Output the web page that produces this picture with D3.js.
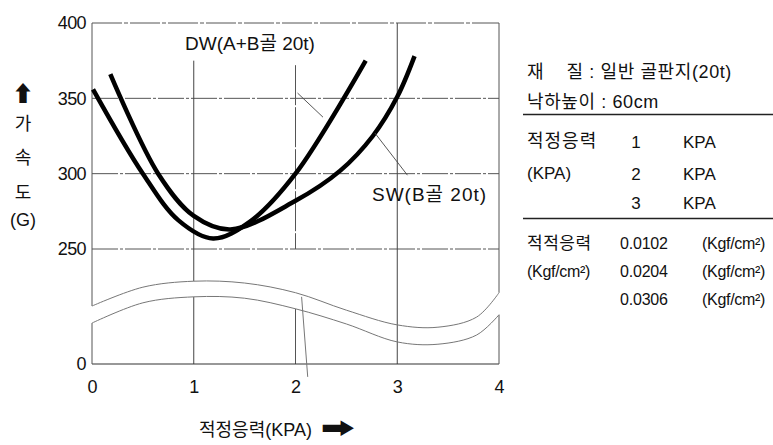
<!DOCTYPE html>
<html><head><meta charset="utf-8">
<script src="https://cdn.jsdelivr.net/npm/d3@7/dist/d3.min.js"></script>
<style>
body{margin:0;background:#fff;}
text{font-family:"Liberation Sans","Noto Sans CJK KR",sans-serif;fill:#111;white-space:pre;}
</style></head><body>
<script>
// ---- data ----
const xTicks = [0, 1, 2, 3, 4];
const yTicks = [0, 250, 300, 350, 400];
const gridY = [250, 300, 350];

const dwX = [0.01, 0.5, 0.85, 1.19, 1.55, 2.0, 2.69];
const dwY = [356, 300, 269, 257, 268, 300, 375];
const swX = [0.18, 0.65, 1.0, 1.36, 2.0, 2.44, 2.76, 3.0, 3.17];
const swY = [366, 300, 272, 263, 282, 302, 325, 351, 378];

// axis-break curves (drawn in the gap between 0 and 250)
const breakX = [0, 0.5, 1, 1.5, 2, 2.5, 3, 3.4, 3.78, 4];
const breakUpper = [126, 167, 180, 176, 155, 117, 85, 80, 102, 155];
const breakLower = [89, 133, 146, 143, 120, 87, 48, 43, 63, 107];

const dwLabel = "DW(A+B골 20t)";
const swLabel = "SW(B골 20t)";
const infoKpa = ["1", "2", "3"];
const infoKgf = ["0.0102", "0.0204", "0.0306"];

// ---- chart ----
const W = 773, H = 445;
const svg = d3.select("body").append("svg").attr("width", W).attr("height", H);

const x = d3.scaleLinear().domain([0, 4]).range([92, 499]);
const y = d3.scaleLinear().domain([0, 250, 400]).range([364, 249, 23]);

const line = d3.line().x(d => x(d[0])).y(d => y(d[1])).curve(d3.curveCatmullRom.alpha(0.5));
const seg = (x0, v0, x1, v1, col, w, dash) => svg.append("line")
  .attr("x1", x(x0)).attr("y1", y(v0)).attr("x2", x(x1)).attr("y2", y(v1))
  .attr("stroke", col).attr("stroke-width", w).attr("stroke-dasharray", dash || null);

// grid
gridY.forEach(v => seg(0, v, 4, v, "#555", 1, "26,2,3,2"));
seg(1, 375, 1, 250, "#444", 1);
seg(2, 372, 2, 250, "#555", 1, "40,2");
seg(3, 400, 3, 0, "#444", 1);
seg(1, 250, 1, breakUpper[2], "#444", 1);
seg(1, breakLower[2], 1, 0, "#444", 1);
seg(2, breakLower[4], 2, 0, "#555", 1);

// frame
seg(0, 400, 4, 400, "#555", 1, "30,2,4,2");
seg(0, 0, 4, 0, "#333", 1.2);
seg(0, 400, 0, breakUpper[0], "#555", 1);
seg(0, breakLower[0], 0, 0, "#555", 1);
seg(4, 400, 4, breakUpper[breakUpper.length - 1], "#555", 1);
seg(4, breakLower[breakLower.length - 1], 4, 0, "#555", 1);

// break curves
[breakUpper, breakLower].forEach(arr => {
  svg.append("path").attr("d", line(breakX.map((bx, i) => [bx, arr[i]])))
    .attr("fill", "none").attr("stroke", "#777").attr("stroke-width", 1);
});

// stray leader near x=2
seg(2.06, 146, 2.12, -28, "#777", 1);

// curves
[[dwX, dwY], [swX, swY]].forEach(([xs, ys]) => {
  svg.append("path").attr("d", line(xs.map((v, i) => [v, ys[i]])))
    .attr("fill", "none").attr("stroke", "#000").attr("stroke-width", 4.5).attr("stroke-linecap", "butt");
});

// leaders
seg(2.02, 353.5, 2.27, 337.5, "#444", 0.9);
seg(3.10, 299, 2.78, 327, "#444", 0.9);

// labels on chart
svg.append("text").attr("x", 185).attr("y", 50).attr("font-size", 19).text(dwLabel);
svg.append("text").attr("x", 372).attr("y", 201).attr("font-size", 19).attr("letter-spacing", 1).text(swLabel);

// axes
const ya = svg.append("g").attr("transform", `translate(${x(0)},0)`)
  .call(d3.axisLeft(y).tickValues(yTicks).tickSize(0).tickPadding(6));
ya.select(".domain").remove();
ya.selectAll("text").attr("font-size", 18).attr("font-family", "Liberation Sans").attr("letter-spacing", -0.6).attr("fill", "#111");

const xa = svg.append("g").attr("transform", `translate(0,${y(0)})`)
  .call(d3.axisBottom(x).tickValues(xTicks).tickFormat(d3.format("d")).tickSize(0).tickPadding(16));
xa.select(".domain").remove();
xa.selectAll("text").attr("font-size", 18).attr("font-family", "Liberation Sans").attr("fill", "#111");

// axis titles
const yt = ["가", "속", "도", "(G)"];
svg.append("text").attr("x", 23).attr("y", 101).attr("text-anchor", "middle")
  .attr("font-size", 22).attr("font-weight", "bold").attr("font-family", "DejaVu Sans").text("⬆");
yt.forEach((t, i) => svg.append("text").attr("x", 23).attr("y", [130, 164, 199, 226][i])
  .attr("text-anchor", "middle").attr("font-size", 18).text(t));

svg.append("text").attr("x", 199).attr("y", 436).attr("font-size", 18).text("적정응력(KPA)");
svg.append("text").attr("transform", "translate(321,436) scale(1.55,1)")
  .attr("font-family", "DejaVu Sans").attr("font-size", 22).text("➡");

// info panel
const info = svg.append("g");
const t = (xx, yy, s, fs, anchor, ls) => info.append("text").attr("x", xx).attr("y", yy)
  .attr("font-size", fs).attr("text-anchor", anchor || "start").attr("letter-spacing", ls || 0).text(s);
t(527, 78, "재    질 : 일반 골판지(20t)", 18, "start", 0.6);
t(527, 108, "낙하높이 : 60cm", 18, "start", 0.6);
info.append("line").attr("x1", 523).attr("x2", 773).attr("y1", 114.5).attr("y2", 114.5).attr("stroke", "#222").attr("stroke-width", 1.5);
t(527, 147, "적정응력", 18, "start", 1);
t(527, 179, "(KPA)", 17);
infoKpa.forEach((k, i) => {
  const yy = [148, 180, 209][i];
  t(636, yy, k, 17, "middle");
  t(683, yy, "KPA", 17);
});
info.append("line").attr("x1", 523).attr("x2", 773).attr("y1", 218.5).attr("y2", 218.5).attr("stroke", "#222").attr("stroke-width", 1.5);
t(527, 249, "적적응력", 17, "start", 0.5);
t(527, 277, "(Kgf/cm²)", 16, "start", -0.3);
infoKgf.forEach((k, i) => {
  const yy = [249, 277, 305][i];
  t(620, yy, k, 16, "start", -0.2);
  t(702, yy, "(Kgf/cm²)", 16, "start", -0.3);
});
</script>
</body></html>
